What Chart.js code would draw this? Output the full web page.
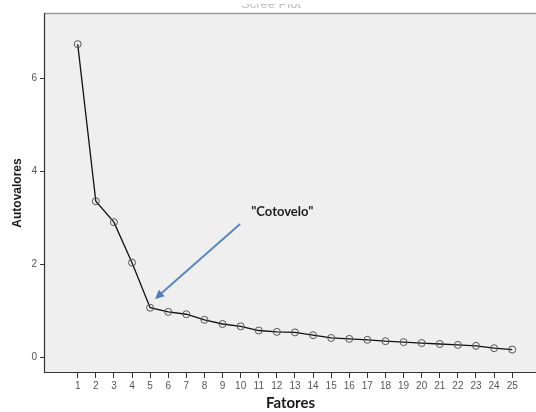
<!DOCTYPE html>
<html>
<head>
<meta charset="utf-8">
<script src="https://cdn.jsdelivr.net/npm/chart.js@4.4.1/dist/chart.umd.min.js"></script>
<style>
  html, body { margin: 0; padding: 0; background: #fff; overflow: hidden; }
  #wrap { width: 542px; height: 412px; position: relative; }
  canvas { display: block; }
</style>
</head>
<body>
<div id="wrap"><canvas id="screeCanvas"></canvas></div>
<script>
const fatores = [1, 2, 3, 4, 5, 6, 7, 8, 9, 10, 11, 12, 13, 14, 15, 16, 17, 18, 19, 20, 21, 22, 23, 24, 25];
const autovalores = [6.73, 3.35, 2.90, 2.03, 1.06, 0.97, 0.92, 0.80, 0.71, 0.66, 0.57, 0.54, 0.53, 0.47, 0.41, 0.39, 0.37, 0.34, 0.32, 0.30, 0.28, 0.26, 0.24, 0.19, 0.16];
const yTicks = [0, 2, 4, 6];
const chartTitle = 'Scree Plot';
const elbowLabel = '"Cotovelo"';
// arrow from label towards the elbow, in data units
const arrowFrom = { x: 9.97, y: 2.86 };
const arrowTo = { x: 5.27, y: 1.25 };
const labelAt = { x: 12.3, y: 3.12 };

const points = fatores.map((f, i) => ({ x: f, y: autovalores[i] }));

// background + frame of the plot area
const framePlugin = {
    id: 'frame',
    beforeDraw(chart) {
        const { ctx, chartArea: a } = chart;
        ctx.save();
        ctx.fillStyle = '#efefef';
        ctx.fillRect(a.left, a.top, a.right - a.left, a.bottom - a.top);
        ctx.strokeStyle = '#9a9a9a';
        ctx.lineWidth = 1.5;
        ctx.beginPath();
        ctx.moveTo(a.left, a.top + 0.5);
        ctx.lineTo(a.right, a.top + 0.5);
        ctx.stroke();
        ctx.strokeStyle = '#333';
        ctx.lineWidth = 1.2;
        ctx.beginPath();
        ctx.moveTo(a.left + 0.5, a.top);
        ctx.lineTo(a.left + 0.5, a.bottom - 0.5);
        ctx.lineTo(a.right, a.bottom - 0.5);
        ctx.stroke();
        // title is cut off at the very top of the picture
        ctx.beginPath();
        ctx.rect(0, 4, chart.width, 5);
        ctx.clip();
        ctx.fillStyle = '#bdbdbd';
        ctx.font = '13px "Liberation Sans", Arial, sans-serif';
        ctx.textAlign = 'center';
        ctx.textBaseline = 'alphabetic';
        ctx.fillText(chartTitle, 271, 8);
        ctx.restore();
    }
};

// elbow annotation
const elbowPlugin = {
    id: 'elbow',
    afterDatasetsDraw(chart) {
        const { ctx, scales: { x, y } } = chart;
        const x1 = x.getPixelForValue(arrowFrom.x), y1 = y.getPixelForValue(arrowFrom.y);
        const x2 = x.getPixelForValue(arrowTo.x), y2 = y.getPixelForValue(arrowTo.y);
        const ang = Math.atan2(y2 - y1, x2 - x1);
        const head = 10;
        ctx.save();
        ctx.strokeStyle = '#5b87bd';
        ctx.fillStyle = '#4f7db6';
        ctx.lineWidth = 2;
        ctx.beginPath();
        ctx.moveTo(x1, y1);
        ctx.lineTo(x2 - Math.cos(ang) * head * 0.7, y2 - Math.sin(ang) * head * 0.7);
        ctx.stroke();
        ctx.beginPath();
        ctx.moveTo(x2, y2);
        ctx.lineTo(x2 - head * Math.cos(ang - 0.45), y2 - head * Math.sin(ang - 0.45));
        ctx.lineTo(x2 - head * Math.cos(ang + 0.45), y2 - head * Math.sin(ang + 0.45));
        ctx.closePath();
        ctx.fill();
        ctx.fillStyle = '#1e1e1e';
        ctx.font = 'bold 13px Lato, "Open Sans", sans-serif';
        ctx.textAlign = 'center';
        ctx.textBaseline = 'middle';
        ctx.fillText(elbowLabel, x.getPixelForValue(labelAt.x), y.getPixelForValue(labelAt.y));
        ctx.restore();
    }
};

const tickFont = { family: '"Liberation Sans", Arial, sans-serif', size: 10 };

new Chart(document.querySelector('#screeCanvas').getContext('2d'), {
    type: 'scatter',
    data: {
        datasets: [{
            data: points,
            showLine: true,
            borderColor: '#111',
            borderWidth: 1.3,
            pointRadius: 3.5,
            pointBorderWidth: 1,
            pointBorderColor: '#555',
            pointBackgroundColor: 'rgba(0,0,0,0)',
            tension: 0
        }]
    },
    options: {
        responsive: true,
        maintainAspectRatio: false,
        animation: false,
        layout: { padding: { top: 13, right: 0, left: 0, bottom: 0 } },
        plugins: { legend: { display: false }, tooltip: { enabled: false } },
        scales: {
            x: {
                type: 'linear',
                min: -0.862,
                max: 26.37,
                afterBuildTicks(scale) { scale.ticks = fatores.map(v => ({ value: v })); },
                afterFit(scale) {
                    scale.height = 39;
                    scale.paddingLeft = 0;
                    scale.paddingRight = 0;
                },
                border: { display: false },
                grid: { drawOnChartArea: false, drawTicks: true, tickLength: 5, color: '#333' },
                ticks: { color: '#555', font: tickFont, padding: 2, maxRotation: 0, autoSkip: false },
                title: {
                    display: true, text: 'Fatores', color: '#1a1a1a',
                    font: { family: 'Lato, "Open Sans", sans-serif', size: 15, weight: 'bold' },
                    padding: { top: 4, bottom: 0 }
                }
            },
            y: {
                min: -0.344,
                max: 7.4,
                afterBuildTicks(scale) { scale.ticks = yTicks.map(v => ({ value: v })); },
                afterFit(scale) { scale.width = 44; },
                border: { display: false },
                grid: { drawOnChartArea: false, drawTicks: true, tickLength: 4, color: '#333' },
                ticks: { color: '#555', font: tickFont, padding: 3 },
                title: {
                    display: true, text: 'Autovalores', color: '#1a1a1a',
                    font: { family: '"Liberation Sans", Arial, sans-serif', size: 12, weight: 'bold' },
                    padding: { top: 10, bottom: 4 }
                }
            }
        }
    },
    plugins: [framePlugin, elbowPlugin]
});
</script>
</body>
</html>
